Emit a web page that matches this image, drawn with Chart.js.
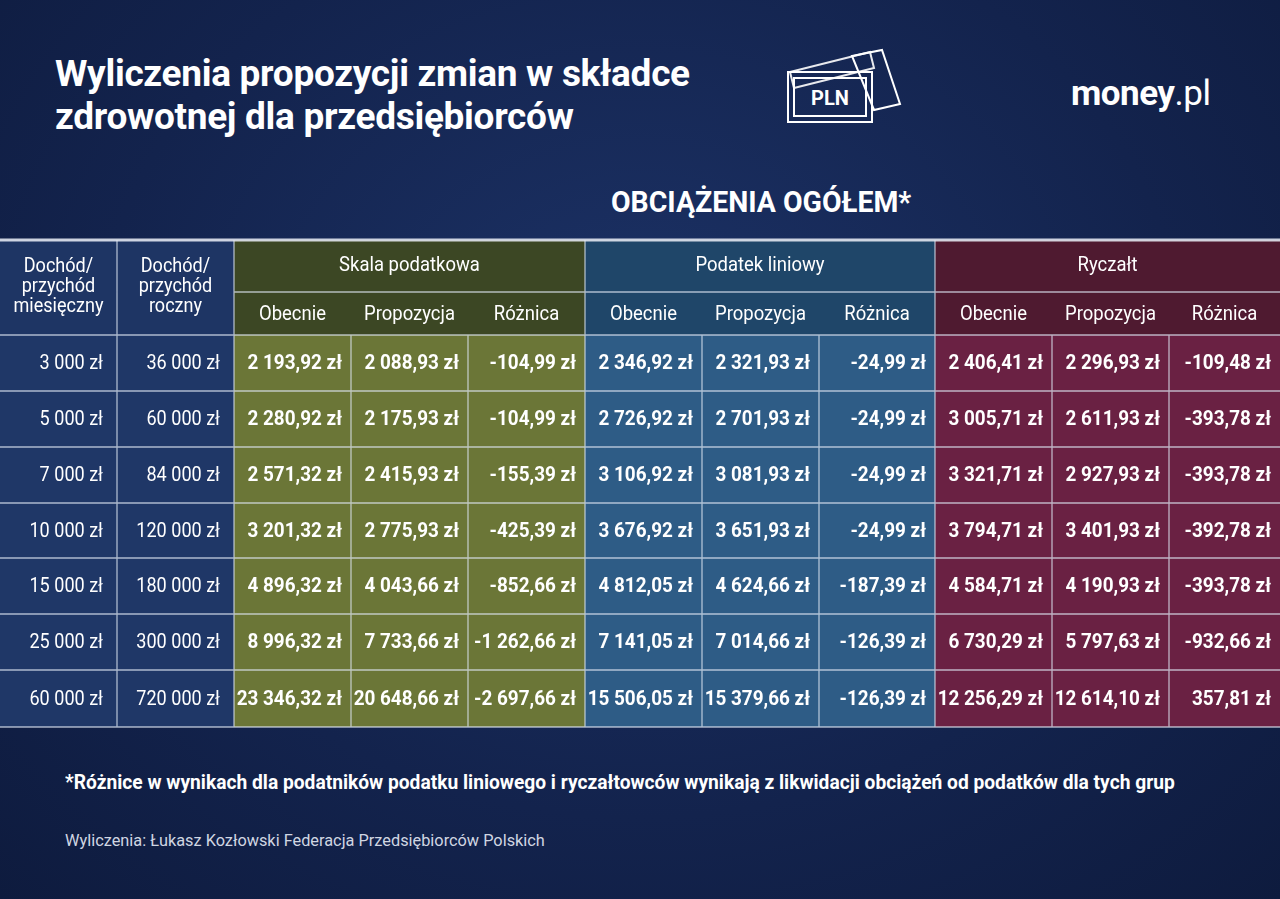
<!DOCTYPE html>
<html><head><meta charset="utf-8">
<script src="https://cdn.jsdelivr.net/npm/chart.js@4/dist/chart.umd.min.js"></script>
<style>
body{margin:0;width:1280px;height:899px;overflow:hidden;background:radial-gradient(ellipse at 50% 40%,#1c3266 0%,#13234d 60%,#0e1b3e 100%);font-family:Roboto,"Noto Sans",sans-serif;color:#fff;position:relative}
.t{position:absolute;left:55px;top:52px;font-size:37px;font-weight:700;line-height:43px;letter-spacing:-0.3px;white-space:nowrap}
.sub{position:absolute;left:611px;top:185px;font-size:29px;font-weight:700;transform:scaleX(0.98);transform-origin:0 0;white-space:nowrap}
.logo{position:absolute;left:1071px;top:73px;font-size:35px;font-weight:700;letter-spacing:-0.5px}
.logo span{font-weight:400}
.fn{position:absolute;left:65px;top:770px;font-size:20px;font-weight:700;transform:scaleX(0.96);transform-origin:0 0;white-space:nowrap}
.src{position:absolute;left:65px;top:830px;font-size:17px;color:#d0d6e2;transform:scaleX(0.96);transform-origin:0 0;white-space:nowrap}
#wrap{position:absolute;left:0;top:236px;width:1280px;height:495px}
</style></head><body>
<div class="t">Wyliczenia propozycji zmian w składce<br>zdrowotnej dla przedsiębiorców</div>
<svg style="position:absolute;left:782px;top:48px" width="122" height="80" viewBox="0 0 122 80" fill="none" stroke="#fff" stroke-width="2">
<polygon points="8,24 88,4 92,20 12,40" opacity="0.9"/>
<polygon points="70,8 100,2 118,56 92,62"/>
<rect x="6" y="24" width="84" height="50"/>
<rect x="12" y="30" width="72" height="38"/>
<text x="48" y="57" fill="#fff" stroke="none" font-family="Roboto" font-weight="700" font-size="20" text-anchor="middle">PLN</text>
</svg>
<div class="logo">money<span>.pl</span></div>
<div class="sub">OBCIĄŻENIA OGÓŁEM*</div>
<div id="wrap"><canvas id="c" width="1280" height="495"></canvas></div>
<div class="fn">*Różnice w wynikach dla podatników podatku liniowego i ryczałtowców wynikają z likwidacji obciążeń od podatków dla tych grup</div>
<div class="src">Wyliczenia: Łukasz Kozłowski Federacja Przedsiębiorców Polskich</div>
<script>
const monthly=["3 000 zł","5 000 zł","7 000 zł","10 000 zł","15 000 zł","25 000 zł","60 000 zł"];
const yearly=["36 000 zł","60 000 zł","84 000 zł","120 000 zł","180 000 zł","300 000 zł","720 000 zł"];
const skalaObecnie=["2 193,92 zł","2 280,92 zł","2 571,32 zł","3 201,32 zł","4 896,32 zł","8 996,32 zł","23 346,32 zł"];
const skalaPropozycja=["2 088,93 zł","2 175,93 zł","2 415,93 zł","2 775,93 zł","4 043,66 zł","7 733,66 zł","20 648,66 zł"];
const skalaRoznica=["-104,99 zł","-104,99 zł","-155,39 zł","-425,39 zł","-852,66 zł","-1 262,66 zł","-2 697,66 zł"];
const liniowyObecnie=["2 346,92 zł","2 726,92 zł","3 106,92 zł","3 676,92 zł","4 812,05 zł","7 141,05 zł","15 506,05 zł"];
const liniowyPropozycja=["2 321,93 zł","2 701,93 zł","3 081,93 zł","3 651,93 zł","4 624,66 zł","7 014,66 zł","15 379,66 zł"];
const liniowyRoznica=["-24,99 zł","-24,99 zł","-24,99 zł","-24,99 zł","-187,39 zł","-126,39 zł","-126,39 zł"];
const ryczaltObecnie=["2 406,41 zł","3 005,71 zł","3 321,71 zł","3 794,71 zł","4 584,71 zł","6 730,29 zł","12 256,29 zł"];
const ryczaltPropozycja=["2 296,93 zł","2 611,93 zł","2 927,93 zł","3 401,93 zł","4 190,93 zł","5 797,63 zł","12 614,10 zł"];
const ryczaltRoznica=["-109,48 zł","-393,78 zł","-393,78 zł","-392,78 zł","-393,78 zł","-932,66 zł","357,81 zł"];
const groups=["Skala podatkowa","Podatek liniowy","Ryczałt"];
const subHeaders=["Obecnie","Propozycja","Różnica"];

const cols=[monthly,yearly,skalaObecnie,skalaPropozycja,skalaRoznica,liniowyObecnie,liniowyPropozycja,liniowyRoznica,ryczaltObecnie,ryczaltPropozycja,ryczaltRoznica];
const colX=[0,117,234,351,468,585,702,819,935,1052,1169,1280];
const rowY=[4,56,99,155,211,267,322,378,434,491];
const cellCol=["#1f3767","#6b7637","#2e5c86","#6a2143"];
const headCol=["#1e3564","#3c4724","#1f4669","#4f1a30"];
const fam="Roboto, 'Noto Sans', sans-serif";

const tablePlugin={id:'tbl',afterDraw(ch){
 const c=ch.ctx,X=v=>ch.scales.x.getPixelForValue(v),Y=v=>ch.scales.y.getPixelForValue(v);
 c.save();
 c.fillStyle=headCol[0];c.fillRect(X(0),Y(rowY[0]),X(234)-X(0),Y(rowY[2])-Y(rowY[0]));
 for(let g=0;g<3;g++){c.fillStyle=headCol[g+1];const a=colX[2+g*3],b=colX[5+g*3];c.fillRect(X(a),Y(rowY[0]),X(b)-X(a),Y(rowY[2])-Y(rowY[0]));}
 for(let ci=0;ci<11;ci++){const gi=ci<2?0:1+Math.floor((ci-2)/3);c.fillStyle=cellCol[gi];
  c.fillRect(X(colX[ci]),Y(rowY[2]),X(colX[ci+1])-X(colX[ci]),Y(rowY[9])-Y(rowY[2]));}
 c.strokeStyle="rgba(220,228,240,0.75)";c.lineWidth=1.3;
 c.beginPath();
 for(let r=2;r<=9;r++){c.moveTo(X(0),Y(rowY[r]));c.lineTo(X(1280),Y(rowY[r]));}
 c.moveTo(X(234),Y(rowY[1]));c.lineTo(X(1280),Y(rowY[1]));
 for(let ci=1;ci<11;ci++){const top=(ci<=2||ci==5||ci==8)?rowY[0]:rowY[2];c.moveTo(X(colX[ci]),Y(top));c.lineTo(X(colX[ci]),Y(rowY[9]));}
 c.stroke();
 c.strokeStyle="rgba(225,230,240,0.9)";c.lineWidth=3;c.beginPath();c.moveTo(0,Y(rowY[0]));c.lineTo(1280,Y(rowY[0]));c.stroke();
 c.fillStyle="#fff";c.textBaseline="middle";
 c.font="400 21px "+fam;c.textAlign="center";
 [["Dochód/","przychód","miesięczny"],["Dochód/","przychód","roczny"]].forEach((L,i)=>{const cx=(X(colX[i])+X(colX[i+1]))/2;L.forEach((s,k)=>{c.save();c.translate(cx,Y(rowY[0])+27+k*20);c.scale(0.86,1);c.fillText(s,0,0);c.restore();});});
 for(let g=0;g<3;g++){const cx=(X(colX[2+g*3])+X(colX[5+g*3]))/2;c.save();c.translate(cx,(Y(rowY[0])+Y(rowY[1]))/2);c.scale(0.88,1);c.fillText(groups[g],0,0);c.restore();
  for(let s=0;s<3;s++){const ci=2+g*3+s;const x=(X(colX[ci])+X(colX[ci+1]))/2;c.save();c.translate(x,(Y(rowY[1])+Y(rowY[2]))/2+1);c.scale(0.88,1);c.fillText(subHeaders[s],0,0);c.restore();}}
 c.textAlign="right";
 for(let ci=0;ci<11;ci++){c.font=(ci<2?"400 21px ":"700 21px ")+fam;
  for(let r=0;r<7;r++){c.save();c.translate(X(colX[ci+1])-(ci<2?14:9),(Y(rowY[r+2])+Y(rowY[r+3]))/2+1);c.scale(ci<2?0.86:0.9,1);c.fillText(cols[ci][r],0,0);c.restore();}}
 c.restore();}};

new Chart(document.getElementById('c'),{type:'scatter',
 data:{datasets:[{data:[],pointRadius:0}]},
 options:{responsive:false,animation:false,events:[],
  layout:{padding:0},
  plugins:{legend:{display:false},tooltip:{enabled:false}},
  scales:{x:{type:'linear',min:0,max:1280,display:false},y:{type:'linear',min:0,max:495,reverse:true,display:false}}},
 plugins:[tablePlugin]});
</script>
</body></html>
